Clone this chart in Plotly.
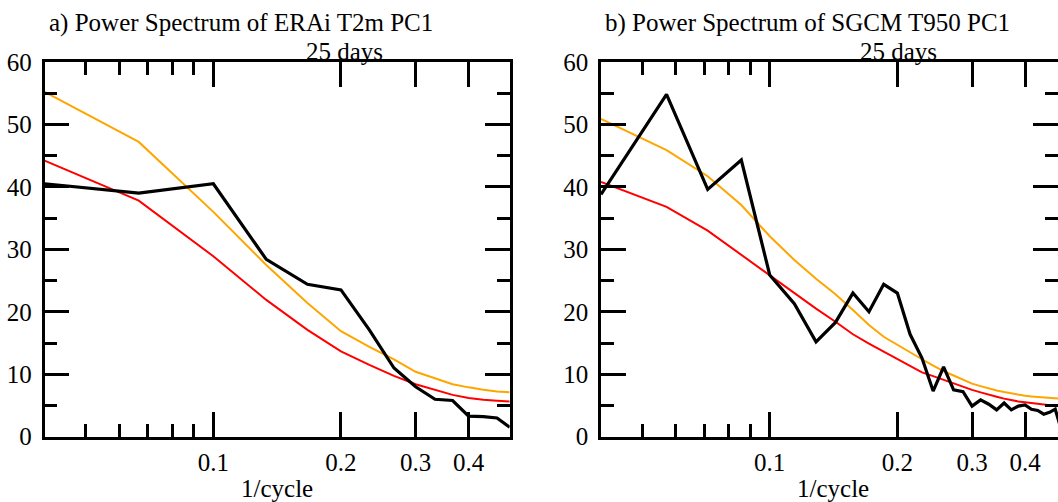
import math
import plotly.graph_objects as go

# ---------------- data ----------------
# panel a) ERAi T2m PC1
freq_a = [0.04, 0.0667, 0.1, 0.1333, 0.1667, 0.2, 0.2333, 0.2667, 0.3,
          0.3333, 0.3667, 0.4, 0.4333, 0.4667, 0.5]
power_a = [40.5, 39.0, 40.5, 28.4, 24.4, 23.5, 17.1, 11.0, 8.0,
           6.0, 5.8, 3.3, 3.2, 3.0, 1.5]
conf_a = [55.2, 47.2, 36.0, 27.5, 21.4, 16.9, 14.4, 12.4, 10.4,
          9.4, 8.4, 7.9, 7.5, 7.25, 7.1]
red_a = [44.2, 37.8, 28.9, 21.9, 17.1, 13.65, 11.5, 9.75, 8.4,
         7.5, 6.7, 6.2, 5.9, 5.75, 5.65]

# panel b) SGCM T950 PC1
freq_b = [0.04, 0.0571, 0.0714, 0.0857, 0.1, 0.1143, 0.1286, 0.1429, 0.1571,
          0.1714, 0.1857, 0.2, 0.2143, 0.2286, 0.2429, 0.2571, 0.2714, 0.2857,
          0.3, 0.3143, 0.3286, 0.3429, 0.3571, 0.3714, 0.3857, 0.4, 0.4143,
          0.4286, 0.4429, 0.4571, 0.4714, 0.4857]
power_b = [38.8, 54.8, 39.6, 44.3, 25.9, 21.3, 15.2, 18.3, 23.0,
           20.0, 24.4, 23.0, 16.4, 12.6, 7.3, 11.2, 7.5, 7.2,
           4.9, 5.9, 5.2, 4.3, 5.4, 4.3, 4.9, 5.1, 4.4,
           4.2, 3.6, 3.9, 4.4, 1.4]
conf_b = [50.9, 45.9, 41.7, 37.1, 32.1, 28.3, 25.3, 22.8, 20.3,
          17.9, 16.0, 14.7, 13.4, 12.4, 11.4, 10.5, 9.8, 9.1,
          8.5, 8.1, 7.7, 7.4, 7.15, 6.9, 6.7, 6.55, 6.45,
          6.35, 6.25, 6.2, 6.15, 6.1]
red_b = [40.8, 36.8, 33.0, 29.1, 25.8, 22.9, 20.5, 18.4, 16.4,
         14.9, 13.6, 12.4, 11.3, 10.3, 9.7, 9.1, 8.5, 8.0,
         7.5, 7.1, 6.7, 6.4, 6.1, 5.85, 5.65, 5.5, 5.35,
         5.25, 5.15, 5.05, 5.0, 4.95]

x_major = [0.1, 0.2, 0.3, 0.4]
x_major_text = ["0.1", "0.2", "0.3", "0.4"]
x_minor = [0.05, 0.06, 0.07, 0.08, 0.09]
y_major = [0, 10, 20, 30, 40, 50, 60]
y_minor = [5, 15, 25, 35, 45, 55]

titles = ["a) Power Spectrum of ERAi T2m PC1", "b) Power Spectrum of SGCM T950 PC1"]
top_label = "25 days"
x_title = "1/cycle"

# ---------------- layout geometry ----------------
W, H = 1058, 502
FONT = "Liberation Serif, Times New Roman, serif"
FS = 25


def px_x(p):
    return p / W


def px_y(p):
    return 1 - p / H


plot_top, plot_bot = 62, 436.7
a_left, a_right = 44.6, 509.7
b_left, b_right = 601.0, 1058.0
decade_px = 424.0
xr_lo = math.log10(0.04)
xr_a_hi = math.log10(0.5)
xr_b_hi = xr_lo + (b_right - b_left) / decade_px

fig = go.Figure()

for (xs, blk, conf, red, xa, ya) in [
    (freq_a, power_a, conf_a, red_a, "x", "y"),
    (freq_b, power_b, conf_b, red_b, "x2", "y2"),
]:
    fig.add_trace(go.Scatter(x=xs, y=conf, mode="lines", xaxis=xa, yaxis=ya,
                             line=dict(color="#FFA500", width=2), showlegend=False))
    fig.add_trace(go.Scatter(x=xs, y=red, mode="lines", xaxis=xa, yaxis=ya,
                             line=dict(color="#FF0000", width=2), showlegend=False))
    fig.add_trace(go.Scatter(x=xs, y=blk, mode="lines", xaxis=xa, yaxis=ya,
                             line=dict(color="black", width=3.2), showlegend=False))

# empty trace so the right-hand tick axis of panel b is drawn
fig.add_trace(go.Scatter(x=[None], y=[None], xaxis="x2", yaxis="y3",
                         showlegend=False, hoverinfo="skip"))

tickfont = dict(family=FONT, size=FS, color="black")


def xaxis_cfg(domain, rng):
    return dict(
        type="log", domain=domain, range=rng, automargin=False,
        tickmode="array", tickvals=x_major, ticktext=x_major_text,
        ticks="inside", ticklen=25, tickwidth=2.5, tickcolor="black",
        minor=dict(tickmode="array", tickvals=x_minor, ticks="inside",
                   ticklen=13, tickwidth=2.5, tickcolor="black", showgrid=False),
        showline=True, linewidth=2.5, linecolor="black", mirror="ticks",
        showgrid=False, zeroline=False, tickfont=tickfont,
        ticklabelstandoff=2,
    )


def yaxis_cfg(domain, mirror):
    return dict(
        domain=domain, range=[0, 60], automargin=False,
        tickmode="array", tickvals=y_major,
        ticks="inside", ticklen=25, tickwidth=2.5, tickcolor="black",
        minor=dict(tickmode="array", tickvals=y_minor, ticks="inside",
                   ticklen=13, tickwidth=2.5, tickcolor="black", showgrid=False),
        showline=True, linewidth=2.5, linecolor="black", mirror=mirror,
        showgrid=False, zeroline=False, tickfont=tickfont,
        ticklabelstandoff=5,
    )


ydom = [px_y(plot_bot), px_y(plot_top)]
xa_cfg = xaxis_cfg([px_x(a_left), px_x(a_right)], [xr_lo, xr_a_hi])
xa_cfg["anchor"] = "y"
xb_cfg = xaxis_cfg([px_x(b_left), 1.0], [xr_lo, xr_b_hi])
xb_cfg["anchor"] = "y2"
ya_cfg = yaxis_cfg(ydom, "ticks")
ya_cfg["anchor"] = "x"
yb_cfg = yaxis_cfg(ydom, False)
yb_cfg["anchor"] = "x2"
y3_cfg = dict(
    overlaying="y2", anchor="x2", side="right", range=[0, 60], automargin=False,
    tickmode="array", tickvals=y_major, showticklabels=False,
    ticks="inside", ticklen=25, tickwidth=2.5, tickcolor="black",
    minor=dict(tickmode="array", tickvals=y_minor, ticks="inside",
               ticklen=13, tickwidth=2.5, tickcolor="black", showgrid=False),
    showline=False, showgrid=False, zeroline=False,
)

annotations = []
title_x = [47, 603]
label_shift = [4, 1]
axis_center = [(a_left + a_right) / 2, (b_left + 1065) / 2]
for i, xref in enumerate(["x", "x2"]):
    annotations.append(dict(text=titles[i], xref="paper", yref="paper",
                            x=px_x(title_x[i]), y=px_y(23), xanchor="left",
                            yanchor="middle", showarrow=False,
                            font=dict(family=FONT, size=FS, color="black")))
    annotations.append(dict(text=top_label, xref=xref, yref="paper",
                            x=math.log10(0.2), y=px_y(51), xanchor="center",
                            xshift=label_shift[i],
                            yanchor="middle", showarrow=False,
                            font=dict(family=FONT, size=FS, color="black")))
    annotations.append(dict(text=x_title, xref="paper", yref="paper",
                            x=px_x(axis_center[i]), y=px_y(488), xanchor="center",
                            yanchor="middle", showarrow=False,
                            font=dict(family=FONT, size=FS, color="black")))

fig.update_layout(
    template="none",
    width=W, height=H,
    margin=dict(l=0, r=0, t=0, b=0, pad=0, autoexpand=False),
    paper_bgcolor="white", plot_bgcolor="white",
    font=dict(family=FONT, size=FS, color="black"),
    xaxis=xa_cfg, yaxis=ya_cfg, xaxis2=xb_cfg, yaxis2=yb_cfg, yaxis3=y3_cfg,
    annotations=annotations,
    showlegend=False,
)

fig.write_html(
    "out.html",
    config={"displayModeBar": False},
    post_script="document.body.style.margin='0';document.body.style.overflow='hidden';",
)
